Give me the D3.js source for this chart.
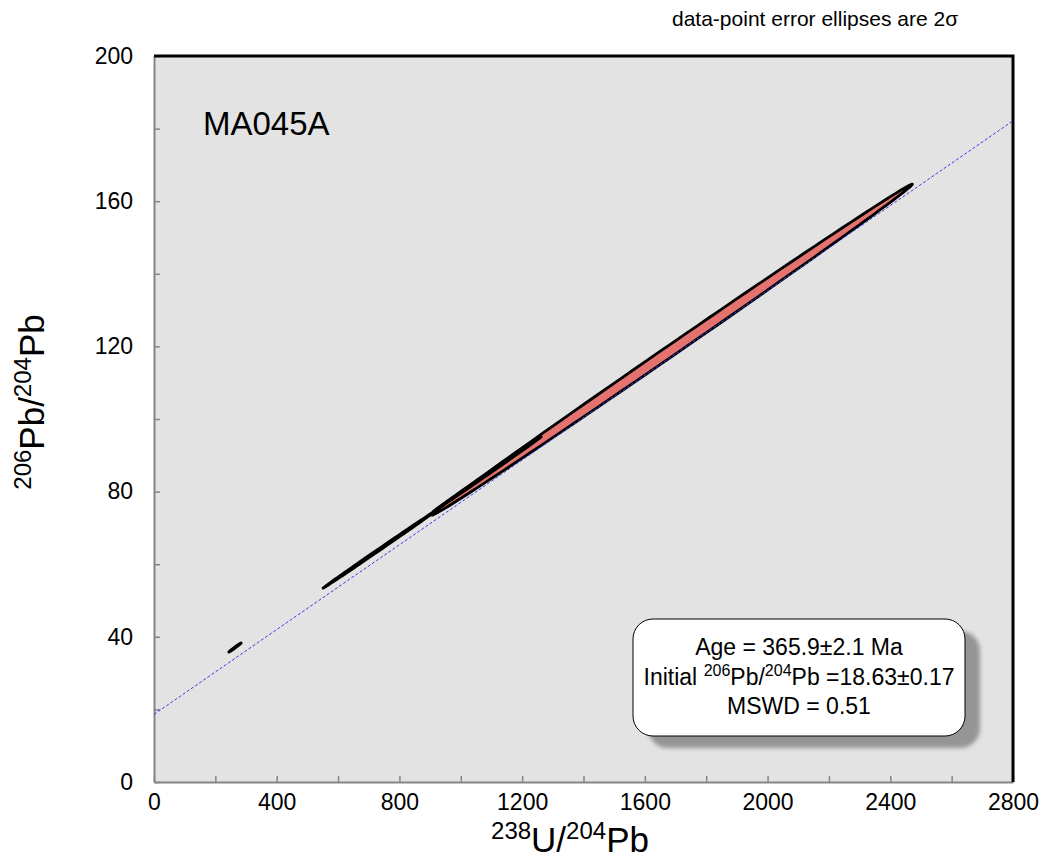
<!DOCTYPE html>
<html>
<head>
<meta charset="utf-8">
<script src="https://cdn.jsdelivr.net/npm/d3@7"></script>
<style>
  body { margin: 0; background: #fff; }
  svg { font-family: "Liberation Sans", Arial, sans-serif; }
</style>
</head>
<body>
<div id="chart-area"></div>
<script>
// data-point ellipses (centre, 2 sigma half-extents, error correlation)
let pointCentreX = [264, 737, 1689, 1086]
let pointCentreY = [37.05, 64.2, 119.1, 84.8]
let pointErrX = [20, 186, 783, 176]
let pointErrY = [1.25, 10.8, 45.6, 10.3]
let pointRho = [0.99, 0.9996, 0.9992, 0.9996]
let pointFilled = [false, false, true, false]

// isochron regression
let isoIntercept = 18.63
let isoSlope = 0.0584

let xTickValues = [0, 200, 400, 600, 800, 1000, 1200, 1400, 1600, 1800, 2000, 2200, 2400, 2600, 2800]
let yTickValues = [0, 20, 40, 60, 80, 100, 120, 140, 160, 180, 200]

let sampleName = 'MA045A'
let ageText = 'Age = 365.9±2.1 Ma'
let initialText = '=18.63±0.17'
let mswdText = 'MSWD = 0.51'

let margin = { top: 56, right: 33, bottom: 78, left: 154 }
let width = 1046
let height = 860
let plotWidth = width - margin.left - margin.right
let plotHeight = height - margin.top - margin.bottom

let svg = d3.select('#chart-area').append('svg')
	.attr('width', width)
	.attr('height', height)

let defs = svg.append('defs')
defs.append('filter').attr('id', 'shadowBlur')
	.append('feGaussianBlur').attr('stdDeviation', 2)
defs.append('clipPath').attr('id', 'plotClip')
	.append('rect')
	.attr('x', margin.left).attr('y', margin.top)
	.attr('width', plotWidth).attr('height', plotHeight)

let x = d3.scaleLinear().domain([0, 2800]).range([margin.left, margin.left + plotWidth])
let y = d3.scaleLinear().domain([0, 200]).range([margin.top + plotHeight, margin.top])

// plot background
svg.append('rect')
	.attr('x', margin.left).attr('y', margin.top)
	.attr('width', plotWidth).attr('height', plotHeight)
	.attr('fill', '#e3e3e3')

// AXES
let xAxisCall = d3.axisBottom(x)
	.tickValues(xTickValues)
	.tickSizeInner(-6).tickSizeOuter(0).tickPadding(12)
	.tickFormat(d => d % 400 === 0 ? d : '')
let xAxisGroup = svg.append('g')
	.attr('transform', 'translate(0, ' + (margin.top + plotHeight) + ')')
	.call(xAxisCall)

let yAxisCall = d3.axisLeft(y)
	.tickValues(yTickValues)
	.tickSizeInner(-6).tickSizeOuter(0).tickPadding(21)
	.tickFormat(d => d % 40 === 0 ? d : '')
let yAxisGroup = svg.append('g')
	.attr('transform', 'translate(' + margin.left + ', 0)')
	.call(yAxisCall)

svg.selectAll('.domain').attr('stroke', '#858585').attr('stroke-width', 2)
svg.selectAll('.tick line').attr('stroke', '#858585').attr('stroke-width', 1.5)
svg.selectAll('.tick text')
	.attr('font-family', '"Liberation Sans", Arial, sans-serif')
	.attr('font-size', 23).attr('fill', '#000')

// top and right frame
svg.append('path')
	.attr('d', 'M' + margin.left + ',' + y(200) + 'H' + x(2800) + 'V' + y(0))
	.attr('fill', 'none').attr('stroke', '#000').attr('stroke-width', 3)

let plot = svg.append('g').attr('clip-path', 'url(#plotClip)')

// ELLIPSES
let ellipsePath = (i) => {
	let pts = d3.range(0, 361, 3).map(a => {
		let t = a * Math.PI / 180
		let px = pointCentreX[i] + pointErrX[i] * Math.cos(t)
		let py = pointCentreY[i] + pointErrY[i] * (pointRho[i] * Math.cos(t) + Math.sqrt(1 - pointRho[i] * pointRho[i]) * Math.sin(t))
		return [x(px), y(py)]
	})
	return d3.line()(pts) + 'Z'
}

let drawOrder = [0, 1, 2, 3]
plot.selectAll('path.ellipse')
	.data(drawOrder)
	.enter().append('path')
	.attr('class', 'ellipse')
	.attr('d', i => ellipsePath(i))
	.attr('fill', i => pointFilled[i] ? '#e47370' : '#000')
	.attr('stroke', '#000')
	.attr('stroke-width', 2.8)
	.attr('stroke-linejoin', 'round')

// regression line
plot.append('line')
	.attr('x1', x(0)).attr('y1', y(isoIntercept))
	.attr('x2', x(2800)).attr('y2', y(isoIntercept + isoSlope * 2800))
	.attr('stroke', '#3a3af0').attr('stroke-width', 1)
	.attr('stroke-dasharray', '3,2')

// LABELS
svg.append('text')
	.attr('x', 203).attr('y', 135)
	.attr('font-size', 33)
	.text(sampleName)

svg.append('text')
	.attr('x', 672).attr('y', 26)
	.attr('font-size', 21)
	.text('data-point error ellipses are 2σ')

let xLabel = svg.append('text')
	.attr('x', 570).attr('y', 852)
	.attr('text-anchor', 'middle')
	.attr('font-size', 35)
xLabel.append('tspan').attr('font-size', 24).attr('dy', -13).text('238')
xLabel.append('tspan').attr('dy', 13).text('U/')
xLabel.append('tspan').attr('font-size', 24).attr('dy', -13).text('204')
xLabel.append('tspan').attr('dy', 13).text('Pb')

let yLabel = svg.append('text')
	.attr('transform', 'translate(44, 402) rotate(-90)')
	.attr('text-anchor', 'middle')
	.attr('font-size', 35)
yLabel.append('tspan').attr('font-size', 24).attr('dy', -13).text('206')
yLabel.append('tspan').attr('dy', 13).text('Pb/')
yLabel.append('tspan').attr('font-size', 24).attr('dy', -13).text('204')
yLabel.append('tspan').attr('dy', 13).text('Pb')

// RESULT BOX
let box = { x: 633, y: 619, w: 332, h: 117 }
svg.append('rect')
	.attr('x', box.x + 15).attr('y', box.y + 12)
	.attr('width', box.w).attr('height', box.h)
	.attr('rx', 20)
	.attr('fill', '#959595')
	.attr('filter', 'url(#shadowBlur)')
svg.append('rect')
	.attr('x', box.x).attr('y', box.y)
	.attr('width', box.w).attr('height', box.h)
	.attr('rx', 20)
	.attr('fill', '#fff').attr('stroke', '#000').attr('stroke-width', 1)

let cx = box.x + box.w / 2
svg.append('text')
	.attr('x', cx).attr('y', 655)
	.attr('text-anchor', 'middle').attr('font-size', 23)
	.text(ageText)

let initLine = svg.append('text')
	.attr('x', cx).attr('y', 685)
	.attr('text-anchor', 'middle').attr('font-size', 23)
initLine.append('tspan').text('Initial ')
initLine.append('tspan').attr('font-size', 16).attr('dy', -9).text('206')
initLine.append('tspan').attr('dy', 9).text('Pb/')
initLine.append('tspan').attr('font-size', 16).attr('dy', -9).text('204')
initLine.append('tspan').attr('dy', 9).text('Pb ' + initialText)

svg.append('text')
	.attr('x', cx).attr('y', 714)
	.attr('text-anchor', 'middle').attr('font-size', 23)
	.text(mswdText)
</script>
</body>
</html>
